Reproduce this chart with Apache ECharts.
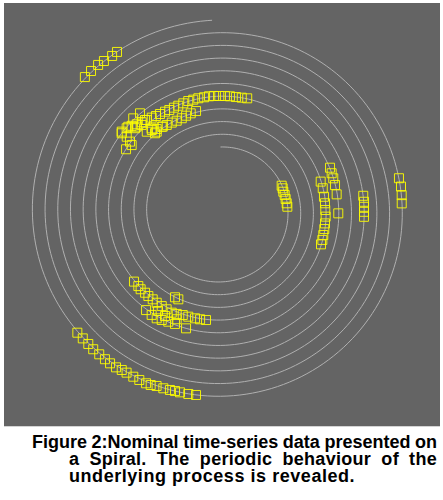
<!DOCTYPE html>
<html><head><meta charset="utf-8">
<script src="https://cdn.jsdelivr.net/npm/echarts@6/dist/echarts.min.js"></script>
<style>
html,body{margin:0;padding:0;background:#fff;width:443px;height:500px;overflow:hidden;}
#chart{position:absolute;left:0;top:0;width:443px;height:430px;}
.cap{position:absolute;font-family:"Liberation Sans",Arial,sans-serif;font-weight:bold;font-size:18px;line-height:17px;color:#000;white-space:nowrap;}
</style></head><body>
<div id="chart"></div>
<div class="cap" data-w="405" style="left:32px;top:433.5px;">Figure 2:Nominal time-series data presented on</div>
<div class="cap" data-w="368" style="left:69px;top:450.7px;letter-spacing:0.3px;">a Spiral. The periodic behaviour of the</div>
<div class="cap" style="left:69px;top:468px;letter-spacing:0.55px;">underlying process is revealed.</div>
<script>
// Events: [radius, phase angle in degrees]
const outerNW = [[190.0,327.0],[189.4,325.1],[190.2,322.2],[190.8,320.1],[190.9,317.3],[190.8,314.7]];
const outerSW = [[187.7,229.7],[187.4,227.3],[187.3,224.9],[187.7,222.7],[187.5,220.3],[187.7,218.0],[187.9,216.0],[187.8,213.8],[186.9,211.9],[186.7,210.2],[187.0,207.8],[187.2,205.7],[187.4,203.4],[187.2,201.9],[186.0,200.1],[186.0,197.9],[185.7,195.8],[185.4,194.2],[185.5,192.6],[185.5,190.0],[185.3,187.6]];
const innerSW = [[111.5,230.9],[111.1,227.7],[111.6,225.7],[111.0,222.8],[111.3,220.4],[111.1,217.6],[111.5,214.9],[111.5,211.8],[111.8,208.8],[112.5,205.7],[111.6,203.1],[110.4,200.0],[110.2,197.0],[110.0,193.4],[109.9,190.7],[109.7,187.6],[97.3,207.9],[97.6,205.6],[123.7,217.0],[124.4,213.6],[124.6,210.8],[123.6,208.4],[122.1,205.3],[121.5,202.0],[122.0,196.4],[116.5,202.1],[117.7,212.1],[118.5,207.9]];
const northArc = [[116.1,13.3],[115.6,10.6],[115.3,7.7],[115.4,4.7],[115.4,2.2],[115.3,359.4],[115.5,356.8],[115.6,354.3],[115.2,351.8],[115.2,348.9],[114.9,346.3],[114.9,343.7],[114.2,341.0],[113.7,338.2],[113.6,335.8],[113.5,333.2],[114.0,330.9],[114.6,328.1],[115.1,325.9],[116.2,323.7],[117.4,321.1],[118.9,318.5],[120.8,316.1],[123.3,313.9],[125.3,311.5],[126.9,308.9]];
const northRow2 = [[103.2,346.3],[102.4,343.1],[101.6,340.2],[100.8,337.4],[100.6,334.2],[101.2,331.2],[101.7,328.1],[103.0,325.2],[104.1,322.2],[106.5,319.8],[108.5,317.2],[101.9,320.0],[102.5,325.7]];
const northWestClump = [[126.8,320.6],[127.5,316.8],[125.1,312.5],[125.9,308.3],[119.8,308.5],[114.2,307.6],[110.8,306.7],[113.0,303.3],[118.5,320.4],[107.8,320.3],[102.0,321.3],[119.1,315.3],[116.9,317.6],[119.2,314.2]];
const eastInner = [[66.3,67.3],[66.3,69.7],[65.8,72.7],[66.2,75.8],[66.3,79.3],[66.7,83.1],[67.0,86.1]];
const eastArcOuter = [[117.9,68.3],[117.5,71.1],[117.5,73.7],[117.5,77.1],[117.4,81.7],[117.8,91.0]];
const eastArcInner = [[104.5,73.5],[104.8,77.3],[104.5,82.0],[104.8,85.6],[104.8,89.3],[105.3,92.9],[105.2,96.6],[105.3,99.7],[105.5,103.0],[105.8,105.7],[105.8,108.2]];
const eastCol = [[143.6,83.8],[143.8,86.2],[143.6,88.2],[143.5,90.2],[143.6,92.2]];
const eastFar = [[181.5,79.5],[182.2,82.2],[181.9,84.9],[181.4,87.5]];

// Spiral time axis: one turn per period
const SPIRAL_R0 = 64.3, SPIRAL_STEP = 12.7, SPIRAL_TURNS = 9.993;
const spiralAxis = [];
for (let d = 0; d <= SPIRAL_TURNS * 360; d += 2) {
  spiralAxis.push([SPIRAL_R0 + SPIRAL_STEP * d / 360, d % 360]);
}
spiralAxis.push([SPIRAL_R0 + SPIRAL_STEP * SPIRAL_TURNS, (SPIRAL_TURNS * 360) % 360]);

const groups = [outerNW, outerSW, innerSW, northArc, northRow2, northWestClump, eastInner, eastArcOuter, eastArcInner, eastCol, eastFar];

// justify caption lines to their target widths
document.querySelectorAll('.cap[data-w]').forEach(el => {
  const target = parseFloat(el.dataset.w);
  const natural = el.getBoundingClientRect().width;
  const gaps = (el.textContent.match(/ /g) || []).length;
  if (gaps) el.style.wordSpacing = ((target - natural) / gaps) + 'px';
});

const chart = echarts.init(document.getElementById('chart'));
const squareStyle = {color: 'rgba(0,0,0,0)', borderColor: '#ffff00', borderWidth: 1, opacity: 0.9};
chart.setOption({
  animation: false,
  backgroundColor: '#ffffff',
  graphic: [
    {type: 'rect', z: -1, silent: true, shape: {x: 4, y: 3, width: 436, height: 423}, style: {fill: '#646464'}},
    {type: 'line', z: -1, silent: true, shape: {x1: 4, y1: 426.5, x2: 440, y2: 426.5}, style: {stroke: '#d4d4d4', lineWidth: 1}}
  ],
  polar: {center: [220.5, 211.3], radius: 200},
  angleAxis: {type: 'value', min: 0, max: 360, startAngle: 90, clockwise: true, show: false},
  radiusAxis: {type: 'value', min: 0, max: 200, show: false},
  series: [
    {type: 'line', coordinateSystem: 'polar', data: spiralAxis, showSymbol: false, smooth: false, clip: false,
     lineStyle: {color: '#b0b0b0', width: 1}, silent: true, z: 1}
  ].concat(groups.map(g => ({
    type: 'scatter', coordinateSystem: 'polar', data: g, symbol: 'rect', symbolSize: 9,
    itemStyle: squareStyle, z: 3, silent: true
  })))
});
</script>
</body></html>
